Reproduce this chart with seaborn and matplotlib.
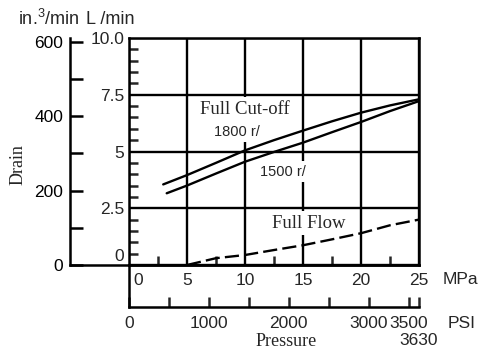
import numpy as np
import pandas as pd
import matplotlib
matplotlib.use('Agg')
import matplotlib.pyplot as plt
import matplotlib.transforms as mtransforms
from matplotlib.ticker import MultipleLocator, FixedLocator
import seaborn as sns

# drain flow (L/min) vs pressure (MPa)
p_1800 = [2.95, 5, 7.5, 10, 12.5, 15, 17.5, 20, 22.5, 25]
q_1800 = [3.55, 3.96, 4.5, 5.05, 5.5, 5.92, 6.33, 6.71, 7.03, 7.3]
p_1500 = [3.25, 5, 7.5, 10, 12.5, 15, 17.5, 20, 22.5, 25]
q_1500 = [3.16, 3.5, 4.03, 4.55, 4.98, 5.39, 5.85, 6.3, 6.78, 7.22]
p_flow = [5, 6, 7.5, 10, 12.5, 15, 17.5, 20, 22.5, 25]
q_flow = [0, 0.12, 0.3, 0.44, 0.66, 0.87, 1.13, 1.4, 1.75, 2.0]

# axis ticks
mpa_ticks = [0, 5, 10, 15, 20, 25]
mpa_minor = [2.5, 7.5, 12.5, 17.5, 22.5]
lmin_ticks = [0, 2.5, 5, 7.5, 10]
lmin_labels = ['0', '2.5', '5', '7.5', '10.0']
in3_ticks = [0, 200, 400, 600]
in3_minor = [100, 300, 500]
psi_ticks = [0, 500, 1000, 1500, 2000, 2500, 3000, 3500, 3630]
psi_labels = ['0', '', '1000', '', '2000', '', '3000', '3500', '\n3630']

sns.set_style('white')
plt.rcParams['font.family'] = ['Liberation Sans', 'DejaVu Sans']
plt.rcParams['mathtext.fontset'] = 'custom'
plt.rcParams['mathtext.rm'] = 'Liberation Sans'

W, H = 485, 349
X_IN, X0, X1 = 70, 129, 419
Y_TOP, Y0, Y_PSI = 38, 265, 307
LW = 1.8
FS = 12.5
serif = 'Liberation Serif'


def px(x, y):
    return x / W, 1 - y / H


fig = plt.figure(figsize=(W / 100, H / 100), dpi=100)

# in.^3/min axis (far left)
ax_in = fig.add_axes([X_IN / W, 1 - Y0 / H, (X1 - X_IN) / W, (Y0 - Y_TOP) / H])
ax_in.set_facecolor('none')
ax_in.set_ylim(0, 610)
ax_in.set_xticks([])
ax_in.set_yticks(in3_ticks)
ax_in.yaxis.set_minor_locator(FixedLocator(in3_minor))
ax_in.tick_params(axis='y', which='both', left=True, direction='in', length=9.5, width=LW,
                  pad=5, labelsize=FS, colors='black')
for s in ['top', 'right']:
    ax_in.spines[s].set_visible(False)
for s in ['left', 'bottom']:
    ax_in.spines[s].set_linewidth(LW)
    ax_in.spines[s].set_color('black')

# PSI axis (below)
ax_psi = fig.add_axes([X0 / W, 1 - Y_PSI / H, (X1 - X0) / W, (Y_PSI - Y0) / H])
ax_psi.set_facecolor('none')
ax_psi.set_xlim(0, 3630)
ax_psi.set_yticks([])
ax_psi.set_xticks(psi_ticks)
ax_psi.set_xticklabels(psi_labels)
ax_psi.tick_params(axis='x', bottom=True, direction='in', length=7.5, width=LW, pad=6.5,
                   labelsize=FS)
for s in ['top', 'right']:
    ax_psi.spines[s].set_visible(False)
for s in ['left', 'bottom']:
    ax_psi.spines[s].set_linewidth(LW)
    ax_psi.spines[s].set_color('black')

# main chart: MPa vs L/min
ax = fig.add_axes([X0 / W, 1 - Y0 / H, (X1 - X0) / W, (Y0 - Y_TOP) / H])
ax.set_facecolor('none')
ax.set_xlim(0, 25)
ax.set_ylim(0, 10)
ax.set_xticks(mpa_ticks)
ax.xaxis.set_minor_locator(FixedLocator(mpa_minor))
ax.set_yticks(lmin_ticks)
ax.set_yticklabels(lmin_labels)
ax.yaxis.set_minor_locator(MultipleLocator(0.5))
ax.tick_params(axis='both', which='major', length=0, labelsize=FS)
ax.tick_params(axis='x', which='major', pad=6)
ax.tick_params(axis='y', which='major', pad=3.5)
ax.tick_params(axis='x', which='minor', bottom=True, direction='in', length=6.5, width=LW)
ax.tick_params(axis='y', which='minor', left=True, direction='in', length=6.5, width=LW)
ax.grid(True, which='major', color='black', linewidth=1.7, zorder=0.5)
ax.set_axisbelow(True)
for s in ax.spines.values():
    s.set_linewidth(LW)
    s.set_color('black')

# label shifts seen on the original
lab = ax.yaxis.get_major_ticks()[0].label1
lab.set_transform(lab.get_transform() + mtransforms.ScaledTranslation(0, 10 / 100, fig.dpi_scale_trans))
lab = ax.xaxis.get_major_ticks()[0].label1
lab.set_transform(lab.get_transform() + mtransforms.ScaledTranslation(9 / 100, 0, fig.dpi_scale_trans))

df_1800 = pd.DataFrame({'pressure': p_1800, 'drain': q_1800})
df_1500 = pd.DataFrame({'pressure': p_1500, 'drain': q_1500})
df_flow = pd.DataFrame({'pressure': p_flow, 'drain': q_flow})
sns.lineplot(data=df_1800, x='pressure', y='drain', ax=ax, color='black', lw=1.7, zorder=3)
sns.lineplot(data=df_1500, x='pressure', y='drain', ax=ax, color='black', lw=1.7, zorder=3)
sns.lineplot(data=df_flow, x='pressure', y='drain', ax=ax, color='black', lw=1.7,
             linestyle=(0, (6, 2.2)), zorder=3)
ax.set_xlabel('')
ax.set_ylabel('')

box = dict(facecolor='white', edgecolor='none', pad=2.5)
ax.text(10.0, 6.87, 'Full Cut-off', family=serif, fontsize=13.5, ha='center', va='center',
        bbox=box, zorder=1.5)
ax.text(9.3, 5.86, '1800 r/', fontsize=10.5, ha='center', va='center', bbox=box, zorder=1.5)
ax.text(13.3, 4.1, '1500 r/', fontsize=10.5, ha='center', va='center', bbox=box, zorder=1.5)
ax.text(15.5, 1.85, 'Full Flow', family=serif, fontsize=13.5, ha='center', va='center',
        bbox=box, zorder=1.5)

# axis titles and units
fig.text(*px(18, 19), 'in.$^3$/min', fontsize=13, ha='left', va='center')
fig.text(*px(86, 19), 'L /min', fontsize=13, ha='left', va='center')
fig.text(*px(18, 165), 'Drain', family=serif, fontsize=13, rotation=90, ha='center', va='center')
fig.text(*px(443, 279), 'MPa', fontsize=FS, ha='left', va='center')
fig.text(*px(448, 323), 'PSI', fontsize=FS, ha='left', va='center')
fig.text(*px(286, 342), 'Pressure', family=serif, fontsize=13, ha='center', va='center')

fig.savefig('out.png', dpi=100)
